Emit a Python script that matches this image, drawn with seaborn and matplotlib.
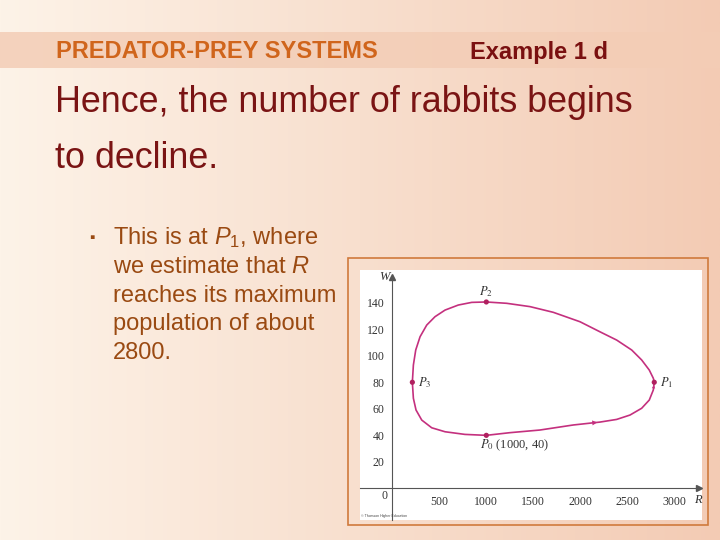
import numpy as np
import pandas as pd
import matplotlib
matplotlib.use("Agg")
import matplotlib.pyplot as plt
import seaborn as sns
from matplotlib.patches import Rectangle

#----------- data -----------
# trajectory of (R, W), counter-clockwise from P0
R = [1000, 1250, 1570, 1925, 2210, 2387, 2529, 2653, 2734, 2777, 2787,
     2777, 2734, 2653, 2547, 2387, 2210, 1997, 1713, 1465, 1217, 1000,
     845, 702, 561, 454, 366, 295, 249, 224, 213,
     224, 252, 313, 419, 561, 773, 1000]
W = [40, 42, 44, 47.8, 50, 52, 55.3, 60.4, 66.6, 74.2, 80,
     83, 89.2, 96.8, 104.3, 111.8, 118, 125.6, 132.7, 137, 139.5, 140.5,
     140.2, 138.2, 134.4, 129.4, 123.1, 114.3, 104.3, 93, 80,
     67.9, 59.1, 51.5, 45.7, 42.7, 40.7, 40]

pt_names = ["P0", "P1", "P2", "P3"]
pt_R = [1000, 2787, 1000, 213]
pt_W = [40, 80, 140.5, 80]

x_ticks = [500, 1000, 1500, 2000, 2500, 3000]
y_ticks = [20, 40, 60, 80, 100, 120, 140]

header = "PREDATOR-PREY SYSTEMS"
example = "Example 1 d"
main_lines = ["Hence, the number of rabbits begins", "to decline."]
bullet_lines = [r"This is at $\mathit{P}_1$, where",
                r"we estimate that $\mathit{R}$",
                "reaches its maximum",
                "population of about",
                "2800."]

df = pd.DataFrame({"R": R, "W": W})
pts = pd.DataFrame({"name": pt_names, "R": pt_R, "W": pt_W})

#----------- style -----------
sns.set_style("white")
plt.rcParams["font.family"] = ["Liberation Sans", "DejaVu Sans"]
plt.rcParams["mathtext.fontset"] = "custom"
plt.rcParams["mathtext.rm"] = "Liberation Sans"
plt.rcParams["mathtext.it"] = "Liberation Sans:italic"

fig = plt.figure(figsize=(7.2, 5.4), dpi=100)

#----------- slide background -----------
bg = fig.add_axes([0, 0, 1, 1])
grad = np.linspace(0, 1, 256)
c_left = np.array([253, 243, 232]) / 255
c_right = np.array([243, 203, 180]) / 255
img = c_left[None, :] * (1 - grad[:, None]) + c_right[None, :] * grad[:, None]
bg.imshow(img[None, :, :], aspect="auto", extent=[0, 720, 540, 0])
# header band
band = np.array([243, 205, 182]) / 255
bg.add_patch(Rectangle((0, 32), 720, 36, color=band, alpha=0.85, lw=0))
bg.set_xlim(0, 720)
bg.set_ylim(540, 0)
bg.axis("off")

bg.text(56, 52, header, color="#d0651c", fontsize=17, fontweight="bold", va="center")
bg.text(470, 52, example, color="#7a1010", fontsize=17, fontweight="bold", va="center")
bg.text(55, 102, main_lines[0], color="#7a1414", fontsize=25.8, va="center")
bg.text(55, 158, main_lines[1], color="#7a1414", fontsize=25.8, va="center")
bg.text(89, 238, "\u25aa", color="#9a4a12", fontsize=11, va="center")
for i, line in enumerate(bullet_lines):
    bg.text(113, 238 + i * 28.8, line, color="#9a4a12", fontsize=17, va="center")

# orange frame around the figure
bg.add_patch(Rectangle((348, 258), 360, 267, fill=False, ec="#d07a3c", lw=1.2))

#----------- the phase plot -----------
ax = fig.add_axes([360 / 720, 1 - 520 / 540, 342 / 720, 250 / 540])
ax.set_facecolor("white")
line_col = "#c4307e"
sns.lineplot(data=df, x="R", y="W", sort=False, estimator=None, color=line_col, lw=1.2, ax=ax)
sns.scatterplot(data=pts, x="R", y="W", color="#b0205f", s=14, edgecolor="none", zorder=5, ax=ax)

# direction arrows along the loop
ax.annotate("", xy=(R[4], W[4]), xytext=(R[3], W[3]),
            arrowprops=dict(arrowstyle="-|>", color=line_col, lw=0, mutation_scale=9))
ax.annotate("", xy=(R[10], W[10]), xytext=(R[9], W[9]),
            arrowprops=dict(arrowstyle="-|>", color=line_col, lw=0, mutation_scale=6))

ax.set_xlim(-344, 3295)
ax.set_ylim(-23.8, 164.6)

for s in ["top", "right"]:
    ax.spines[s].set_visible(False)
ax.spines["left"].set_position(("data", 0))
ax.spines["bottom"].set_position(("data", 0))
ax.spines["left"].set_bounds(-23.8, 158)
ax.spines["bottom"].set_bounds(-344, 3255)
for s in ["left", "bottom"]:
    ax.spines[s].set_color("#555555")
    ax.spines[s].set_linewidth(0.8)
ax.plot(0, 159, marker="^", color="#555555", ms=4, clip_on=False)
ax.plot(3262, 0, marker=">", color="#555555", ms=4, clip_on=False)

serif = ["Liberation Serif", "DejaVu Serif"]
ax.set_xticks(x_ticks)
ax.set_yticks(y_ticks)
ax.set_xticklabels([str(v) for v in x_ticks], family=serif, fontsize=8.5, color="#333333")
ax.set_yticklabels([str(v) for v in y_ticks], family=serif, fontsize=8.5, color="#333333")
ax.tick_params(direction="inout", length=5, width=0.7, color="#555555", pad=3)
ax.set_xlabel("")
ax.set_ylabel("")

ax.text(-85, 159, "W", family=serif, style="italic", fontsize=9, ha="center", va="center", color="#333333")
ax.text(3250, -9, "R", family=serif, style="italic", fontsize=9, ha="center", va="center", color="#333333")
ax.text(-88, -5.5, "0", family=serif, fontsize=8.5, ha="center", va="center", color="#333333")

lab_kw = dict(fontsize=9, color="#333333", math_fontfamily="stix")
ax.text(pt_R[2], pt_W[2] + 8, r"$P_2$", ha="center", va="center", **lab_kw)
ax.text(pt_R[1] + 60, pt_W[1], r"$P_1$", ha="left", va="center", **lab_kw)
ax.text(pt_R[3] + 60, pt_W[3], r"$P_3$", ha="left", va="center", **lab_kw)
ax.text(pt_R[0] - 70, pt_W[0] - 7.5, r"$P_0$ (1000, 40)", ha="left", va="center",
        family=serif, **lab_kw)

ax.text(-330, -21, "\u00a9 Thomson Higher Education", fontsize=2.5, color="#444444", va="center")

fig.savefig("out.png", dpi=100)
